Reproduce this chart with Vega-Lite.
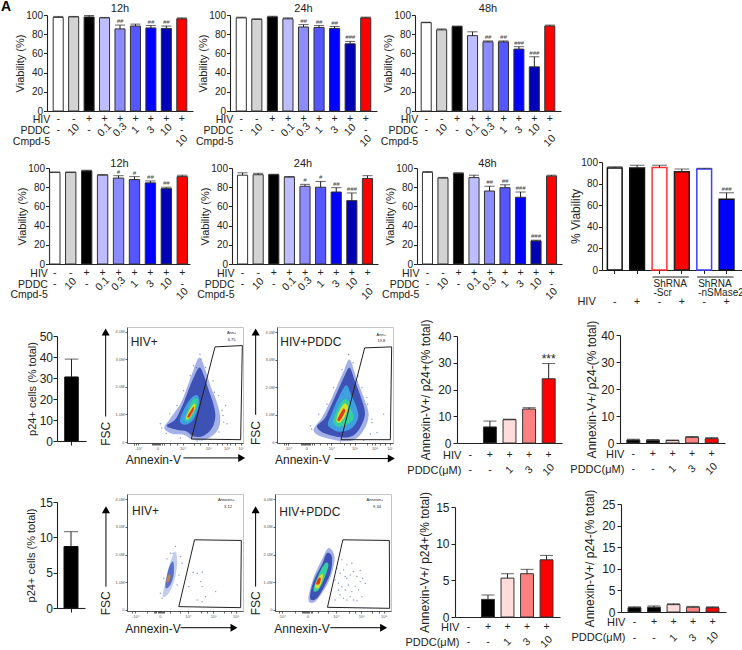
{"$schema":"https://vega.github.io/schema/vega-lite/v6.json","background":"white","padding":0,"autosize":{"type":"pad"},"spacing":0,"bounds":"flush","resolve":{"scale":{"fill":"independent","stroke":"independent"}},
"config":{"font":"Liberation Sans","view":{"stroke":null},"axis":{"grid":false,"domainColor":"#222","tickColor":"#222","labelColor":"#222","titleColor":"#222","labelFontSize":10,"titleFontSize":11,"titleFontWeight":"normal","tickSize":3.5,"labelPadding":1,"titlePadding":0,"domainWidth":1.1},"title":{"fontSize":11,"fontWeight":"normal","color":"#222"},"bar":{"stroke":"#333","strokeWidth":1},"rule":{"color":"#222","strokeWidth":1},"tick":{"color":"#222","thickness":1,"bandSize":7},"text":{"fontSize":10.5,"color":"#222"}},
"datasets":{"e":[],
"v":[
{"p":1,"g":1,"v":97.5,"e":98.5,"h":"-","d":"-"},{"p":1,"g":2,"v":98,"e":98.5,"h":"-","d":"10"},{"p":1,"g":3,"v":98,"e":99.5,"h":"+","d":"-"},{"p":1,"g":4,"v":97,"e":97.5,"h":"+","d":"0.1"},{"p":1,"g":5,"v":85.5,"e":89.5,"h":"+","d":"0.3","s":"##"},{"p":1,"g":6,"v":88.5,"e":90.5,"h":"+","d":"1"},{"p":1,"g":7,"v":86.5,"e":89,"h":"+","d":"3","s":"##"},{"p":1,"g":8,"v":86,"e":88.5,"h":"+","d":"10","s":"##"},{"p":1,"g":9,"v":96,"e":97,"h":"+","d":"-","c":"10"},
{"p":2,"g":1,"v":97,"e":97.7,"h":"-","d":"-"},{"p":2,"g":2,"v":95.5,"e":96,"h":"-","d":"10"},{"p":2,"g":3,"v":98,"e":98.7,"h":"+","d":"-"},{"p":2,"g":4,"v":96,"e":97,"h":"+","d":"0.1"},{"p":2,"g":5,"v":87.5,"e":90,"h":"+","d":"0.3","s":"##"},{"p":2,"g":6,"v":87,"e":89,"h":"+","d":"1","s":"##"},{"p":2,"g":7,"v":86,"e":88,"h":"+","d":"3","s":"##"},{"p":2,"g":8,"v":70,"e":72.5,"h":"+","d":"10","s":"###"},{"p":2,"g":9,"v":97,"e":97.8,"h":"+","d":"-","c":"10"},
{"p":3,"g":1,"v":92,"e":92.5,"h":"-","d":"-"},{"p":3,"g":2,"v":84.5,"e":85.5,"h":"-","d":"10"},{"p":3,"g":3,"v":88,"e":88.5,"h":"+","d":"-"},{"p":3,"g":4,"v":78.5,"e":82.5,"h":"+","d":"0.1"},{"p":3,"g":5,"v":72,"e":73,"h":"+","d":"0.3","s":"##"},{"p":3,"g":6,"v":72,"e":73,"h":"+","d":"1","s":"##"},{"p":3,"g":7,"v":64.5,"e":67,"h":"+","d":"3","s":"###"},{"p":3,"g":8,"v":46,"e":56.5,"h":"+","d":"10","s":"###"},{"p":3,"g":9,"v":88.5,"e":89.5,"h":"+","d":"-","c":"10"},
{"p":4,"g":1,"v":95.5,"e":95.7,"h":"-","d":"-"},{"p":4,"g":2,"v":95.5,"e":95.7,"h":"-","d":"10"},{"p":4,"g":3,"v":97,"e":97.7,"h":"+","d":"-"},{"p":4,"g":4,"v":92.5,"e":93.2,"h":"+","d":"0.1"},{"p":4,"g":5,"v":89.5,"e":92,"h":"+","d":"0.3","s":"#"},{"p":4,"g":6,"v":88,"e":91,"h":"+","d":"1","s":"#"},{"p":4,"g":7,"v":84.5,"e":86.5,"h":"+","d":"3","s":"##"},{"p":4,"g":8,"v":78.5,"e":80,"h":"+","d":"10","s":"##"},{"p":4,"g":9,"v":91,"e":92.5,"h":"+","d":"-","c":"10"},
{"p":5,"g":1,"v":92.5,"e":95,"h":"-","d":"-"},{"p":5,"g":2,"v":93,"e":94.5,"h":"-","d":"10"},{"p":5,"g":3,"v":93,"e":93.5,"h":"+","d":"-"},{"p":5,"g":4,"v":90.5,"e":91.2,"h":"+","d":"0.1"},{"p":5,"g":5,"v":81,"e":83,"h":"+","d":"0.3","s":"#"},{"p":5,"g":6,"v":80,"e":86,"h":"+","d":"1","s":"#"},{"p":5,"g":7,"v":75,"e":79.5,"h":"+","d":"3","s":"##"},{"p":5,"g":8,"v":66,"e":74,"h":"+","d":"10","s":"###"},{"p":5,"g":9,"v":89,"e":92,"h":"+","d":"-","c":"10"},
{"p":6,"g":1,"v":95.5,"e":96.3,"h":"-","d":"-"},{"p":6,"g":2,"v":89.5,"e":90.2,"h":"-","d":"10"},{"p":6,"g":3,"v":94.5,"e":95,"h":"+","d":"-"},{"p":6,"g":4,"v":90,"e":92.5,"h":"+","d":"0.1"},{"p":6,"g":5,"v":76,"e":81,"h":"+","d":"0.3","s":"##"},{"p":6,"g":6,"v":79.5,"e":82.5,"h":"+","d":"1","s":"##"},{"p":6,"g":7,"v":69.5,"e":75,"h":"+","d":"3","s":"###"},{"p":6,"g":8,"v":24,"e":24.8,"h":"+","d":"10","s":"###"},{"p":6,"g":9,"v":91.5,"e":92.5,"h":"+","d":"-","c":"10"}
],
"b":[
{"p":"G","g":1,"v":94.5,"e":95.5,"h":"-"},{"p":"G","g":2,"v":94.5,"e":97,"h":"+"},{"p":"G","g":3,"v":95,"e":97,"h":"-","b":4,"t":"ShRNA\n-Scr"},{"p":"G","g":4,"v":91,"e":93.5,"h":"+"},{"p":"G","g":5,"v":93.5,"e":94.2,"h":"-","b":6,"t":"ShRNA\n-nSMase2"},{"p":"G","g":6,"v":65.5,"e":71.5,"h":"+","s":"###"},
{"p":"H","g":1,"v":30.5,"e":39},{"p":"M","g":1,"v":8.7,"e":10.8},
{"p":"K","g":1,"v":0,"h":"-","d":"-"},{"p":"K","g":2,"v":6,"e":8.2,"h":"+","d":"-"},{"p":"K","g":3,"v":8.7,"e":8.9,"h":"+","d":"1"},{"p":"K","g":4,"v":12.7,"e":13.2,"h":"+","d":"3"},{"p":"K","g":5,"v":24,"e":29.7,"h":"+","d":"10","s":"***"},
{"p":"L","g":1,"v":1.1,"e":1.4,"h":"-","d":"-"},{"p":"L","g":2,"v":1,"e":1.3,"h":"+","d":"-"},{"p":"L","g":3,"v":0.9,"e":1.1,"h":"+","d":"1"},{"p":"L","g":4,"v":2.1,"e":2.4,"h":"+","d":"3"},{"p":"L","g":5,"v":1.6,"e":2,"h":"+","d":"10"},
{"p":"P","g":1,"v":0,"h":"-","d":"-"},{"p":"P","g":2,"v":2.4,"e":3,"h":"+","d":"-"},{"p":"P","g":3,"v":5.3,"e":5.9,"h":"+","d":"1"},{"p":"P","g":4,"v":5.9,"e":6.5,"h":"+","d":"3"},{"p":"P","g":5,"v":7.8,"e":8.4,"h":"+","d":"10"},
{"p":"Q","g":1,"v":1,"e":1.2,"h":"-","d":"-"},{"p":"Q","g":2,"v":1.1,"e":1.4,"h":"+","d":"-"},{"p":"Q","g":3,"v":1.7,"e":1.9,"h":"+","d":"1"},{"p":"Q","g":4,"v":1.1,"e":1.3,"h":"+","d":"3"},{"p":"Q","g":5,"v":1,"e":1.2,"h":"+","d":"10"}
],
"c":[
{"p":"I","l":0,"x":112,"y":42},{"p":"I","l":0,"x":130,"y":72},{"p":"I","l":0,"x":160,"y":115},{"p":"I","l":0,"x":175,"y":150},{"p":"I","l":0,"x":195,"y":205},{"p":"I","l":0,"x":217,"y":255},{"p":"I","l":0,"x":236,"y":215},{"p":"I","l":0,"x":250,"y":170},{"p":"I","l":0,"x":268,"y":125},{"p":"I","l":0,"x":280,"y":70},{"p":"I","l":0,"x":268,"y":30},{"p":"I","l":0,"x":232,"y":6},{"p":"I","l":0,"x":195,"y":8},{"p":"I","l":0,"x":170,"y":22},{"p":"I","l":0,"x":135,"y":25},
{"p":"I","l":1,"x":119,"y":49},{"p":"I","l":1,"x":144,"y":67},{"p":"I","l":1,"x":164,"y":105},{"p":"I","l":1,"x":179,"y":142},{"p":"I","l":1,"x":199,"y":192},{"p":"I","l":1,"x":217,"y":225},{"p":"I","l":1,"x":231,"y":200},{"p":"I","l":1,"x":244,"y":160},{"p":"I","l":1,"x":259,"y":115},{"p":"I","l":1,"x":265,"y":77},{"p":"I","l":1,"x":255,"y":42},{"p":"I","l":1,"x":229,"y":18},{"p":"I","l":1,"x":199,"y":17},{"p":"I","l":1,"x":179,"y":32},{"p":"I","l":1,"x":149,"y":37},
{"p":"I","l":2,"x":159,"y":67},{"p":"I","l":2,"x":184,"y":122},{"p":"I","l":2,"x":209,"y":142},{"p":"I","l":2,"x":217,"y":117},{"p":"I","l":2,"x":199,"y":67},{"p":"I","l":2,"x":174,"y":52},
{"p":"I","l":3,"x":174,"y":72},{"p":"I","l":3,"x":194,"y":122},{"p":"I","l":3,"x":209,"y":132},{"p":"I","l":3,"x":211,"y":112},{"p":"I","l":3,"x":194,"y":72},{"p":"I","l":3,"x":179,"y":62},
{"p":"I","l":4,"x":177,"y":75},{"p":"I","l":4,"x":194,"y":107},{"p":"I","l":4,"x":204,"y":115},{"p":"I","l":4,"x":204,"y":102},{"p":"I","l":4,"x":189,"y":75},{"p":"I","l":4,"x":181,"y":69},
{"p":"I","l":5,"x":181,"y":77},{"p":"I","l":5,"x":194,"y":99},{"p":"I","l":5,"x":201,"y":107},{"p":"I","l":5,"x":199,"y":95},{"p":"I","l":5,"x":187,"y":75},
{"p":"J","l":0,"x":110,"y":40},{"p":"J","l":0,"x":135,"y":75},{"p":"J","l":0,"x":158,"y":120},{"p":"J","l":0,"x":178,"y":165},{"p":"J","l":0,"x":200,"y":215},{"p":"J","l":0,"x":218,"y":250},{"p":"J","l":0,"x":238,"y":195},{"p":"J","l":0,"x":260,"y":135},{"p":"J","l":0,"x":275,"y":85},{"p":"J","l":0,"x":262,"y":40},{"p":"J","l":0,"x":232,"y":8},{"p":"J","l":0,"x":190,"y":4},{"p":"J","l":0,"x":150,"y":12},{"p":"J","l":0,"x":122,"y":22},
{"p":"J","l":1,"x":120,"y":49},{"p":"J","l":1,"x":143,"y":72},{"p":"J","l":1,"x":163,"y":112},{"p":"J","l":1,"x":183,"y":157},{"p":"J","l":1,"x":203,"y":202},{"p":"J","l":1,"x":218,"y":225},{"p":"J","l":1,"x":233,"y":187},{"p":"J","l":1,"x":253,"y":132},{"p":"J","l":1,"x":264,"y":87},{"p":"J","l":1,"x":251,"y":47},{"p":"J","l":1,"x":228,"y":20},{"p":"J","l":1,"x":193,"y":15},{"p":"J","l":1,"x":158,"y":22},{"p":"J","l":1,"x":133,"y":32},
{"p":"J","l":2,"x":153,"y":57},{"p":"J","l":2,"x":168,"y":97},{"p":"J","l":2,"x":188,"y":142},{"p":"J","l":2,"x":208,"y":172},{"p":"J","l":2,"x":223,"y":142},{"p":"J","l":2,"x":240,"y":102},{"p":"J","l":2,"x":243,"y":72},{"p":"J","l":2,"x":223,"y":42},{"p":"J","l":2,"x":188,"y":32},{"p":"J","l":2,"x":163,"y":42},
{"p":"J","l":3,"x":168,"y":62},{"p":"J","l":3,"x":180,"y":97},{"p":"J","l":3,"x":198,"y":127},{"p":"J","l":3,"x":213,"y":127},{"p":"J","l":3,"x":223,"y":97},{"p":"J","l":3,"x":230,"y":72},{"p":"J","l":3,"x":208,"y":52},{"p":"J","l":3,"x":183,"y":47},
{"p":"J","l":4,"x":178,"y":67},{"p":"J","l":4,"x":188,"y":97},{"p":"J","l":4,"x":203,"y":117},{"p":"J","l":4,"x":213,"y":105},{"p":"J","l":4,"x":203,"y":77},{"p":"J","l":4,"x":188,"y":59},
{"p":"J","l":5,"x":181,"y":69},{"p":"J","l":5,"x":190,"y":87},{"p":"J","l":5,"x":200,"y":102},{"p":"J","l":5,"x":204,"y":92},{"p":"J","l":5,"x":193,"y":72},{"p":"J","l":5,"x":186,"y":64},
{"p":"N","l":0,"x":107,"y":40},{"p":"N","l":0,"x":115,"y":85},{"p":"N","l":0,"x":130,"y":145},{"p":"N","l":0,"x":145,"y":175},{"p":"N","l":0,"x":150,"y":140},{"p":"N","l":0,"x":142,"y":90},{"p":"N","l":0,"x":125,"y":50},
{"p":"N","l":1,"x":115,"y":75},{"p":"N","l":1,"x":125,"y":125},{"p":"N","l":1,"x":138,"y":145},{"p":"N","l":1,"x":140,"y":110},{"p":"N","l":1,"x":132,"y":80},{"p":"N","l":1,"x":120,"y":65},
{"p":"N","l":6,"x":118,"y":85},{"p":"N","l":6,"x":124,"y":105},{"p":"N","l":6,"x":130,"y":103},{"p":"N","l":6,"x":126,"y":85},
{"p":"O","l":0,"x":100,"y":30},{"p":"O","l":0,"x":113,"y":90},{"p":"O","l":0,"x":140,"y":150},{"p":"O","l":0,"x":160,"y":185},{"p":"O","l":0,"x":178,"y":160},{"p":"O","l":0,"x":170,"y":110},{"p":"O","l":0,"x":150,"y":65},{"p":"O","l":0,"x":120,"y":25},
{"p":"O","l":1,"x":105,"y":35},{"p":"O","l":1,"x":115,"y":85},{"p":"O","l":1,"x":140,"y":135},{"p":"O","l":1,"x":155,"y":170},{"p":"O","l":1,"x":170,"y":160},{"p":"O","l":1,"x":167,"y":115},{"p":"O","l":1,"x":150,"y":75},{"p":"O","l":1,"x":125,"y":35},
{"p":"O","l":3,"x":115,"y":60},{"p":"O","l":3,"x":130,"y":105},{"p":"O","l":3,"x":150,"y":140},{"p":"O","l":3,"x":160,"y":135},{"p":"O","l":3,"x":150,"y":100},{"p":"O","l":3,"x":130,"y":60},
{"p":"O","l":4,"x":120,"y":70},{"p":"O","l":4,"x":130,"y":97},{"p":"O","l":4,"x":143,"y":107},{"p":"O","l":4,"x":140,"y":85},{"p":"O","l":4,"x":130,"y":65},
{"p":"O","l":5,"x":123,"y":78},{"p":"O","l":5,"x":130,"y":95},{"p":"O","l":5,"x":137,"y":95},{"p":"O","l":5,"x":133,"y":78}
],
"s":[
{"p":"I","x":219,"y":265},{"p":"I","x":222,"y":250},{"p":"I","x":208,"y":225},{"p":"I","x":236,"y":225},{"p":"I","x":262,"y":150},{"p":"I","x":285,"y":95},{"p":"I","x":290,"y":60},{"p":"I","x":300,"y":55},{"p":"I","x":296,"y":110},{"p":"I","x":100,"y":55},{"p":"I","x":104,"y":42},{"p":"I","x":118,"y":26},{"p":"I","x":276,"y":30},{"p":"I","x":250,"y":8},{"p":"I","x":210,"y":3},{"p":"I","x":160,"y":12},{"p":"I","x":200,"y":230},{"p":"I","x":190,"y":200},{"p":"I","x":170,"y":155},{"p":"I","x":150,"y":110},{"p":"I","x":128,"y":85},{"p":"I","x":258,"y":185},{"p":"I","x":275,"y":140},{"p":"I","x":288,"y":80},
{"p":"J","x":215,"y":265},{"p":"J","x":228,"y":240},{"p":"J","x":243,"y":200},{"p":"J","x":270,"y":135},{"p":"J","x":285,"y":70},{"p":"J","x":320,"y":85},{"p":"J","x":280,"y":25},{"p":"J","x":104,"y":40},{"p":"J","x":100,"y":50},{"p":"J","x":260,"y":6},{"p":"J","x":190,"y":1},{"p":"J","x":285,"y":60},{"p":"J","x":300,"y":30},{"p":"J","x":195,"y":220},{"p":"J","x":170,"y":165},{"p":"J","x":150,"y":115},{"p":"J","x":125,"y":85},{"p":"J","x":255,"y":165},{"p":"J","x":272,"y":115},
{"p":"N","x":198,"y":113},{"p":"N","x":210,"y":110},{"p":"N","x":225,"y":113},{"p":"N","x":220,"y":85},{"p":"N","x":235,"y":40},{"p":"N","x":225,"y":70},{"p":"N","x":185,"y":70},{"p":"N","x":265,"y":55},{"p":"N","x":210,"y":30},{"p":"N","x":225,"y":25},{"p":"N","x":145,"y":190},{"p":"N","x":138,"y":170},{"p":"N","x":160,"y":160},{"p":"N","x":165,"y":140},{"p":"N","x":155,"y":105},{"p":"N","x":105,"y":35},{"p":"N","x":100,"y":50},{"p":"N","x":150,"y":75},{"p":"N","x":110,"y":95},{"p":"N","x":120,"y":153},{"p":"N","x":130,"y":170},
{"p":"O","x":185,"y":125},{"p":"O","x":195,"y":110},{"p":"O","x":205,"y":120},{"p":"O","x":215,"y":95},{"p":"O","x":225,"y":105},{"p":"O","x":235,"y":115},{"p":"O","x":245,"y":100},{"p":"O","x":255,"y":118},{"p":"O","x":262,"y":95},{"p":"O","x":190,"y":80},{"p":"O","x":200,"y":70},{"p":"O","x":210,"y":60},{"p":"O","x":220,"y":75},{"p":"O","x":230,"y":55},{"p":"O","x":240,"y":70},{"p":"O","x":250,"y":60},{"p":"O","x":260,"y":40},{"p":"O","x":195,"y":45},{"p":"O","x":205,"y":35},{"p":"O","x":215,"y":30},{"p":"O","x":225,"y":40},{"p":"O","x":235,"y":30},{"p":"O","x":245,"y":28},{"p":"O","x":190,"y":60},{"p":"O","x":180,"y":90},{"p":"O","x":270,"y":80},{"p":"O","x":200,"y":150},{"p":"O","x":215,"y":135},{"p":"O","x":230,"y":140},{"p":"O","x":180,"y":30},{"p":"O","x":255,"y":85},{"p":"O","x":210,"y":100}
]},
"vconcat":[
{"width":12,"height":14,"data":{"values":[{"t":"A"}]},"mark":{"type":"text","fontSize":14,"fontWeight":"bold","color":"#000"},"encoding":{"text":{"field":"t"}}},
{"spacing":0,"bounds":"flush","hconcat":[{"width":47,"height":0,"data":{"name":"e"},"mark":"text"},{"spacing":0,"bounds":"flush","vconcat":[{"width":0,"height":1,"data":{"name":"e"},"mark":"text"},
{"title":{"text":"12h","offset":-4},"width":146,"height":96,"data":{"name":"v"},"transform":[{"filter":"datum.p==1"}],"encoding":{"x":{"field":"g","type":"nominal","scale":{"domain":[1,2,3,4,5,6,7,8,9],"paddingInner":0.35,"paddingOuter":0.4},"axis":{"title":null,"labels":false,"ticks":false}},"y":{"field":"v","type":"quantitative","scale":{"domain":[0,100]},"axis":{"title":"Viability (%)","values":[0,20,40,60,80,100]}}},"layer":[{"mark":"bar","encoding":{"fill":{"field":"g","type":"nominal","scale":{"domain":[1,2,3,4,5,6,7,8,9],"range":["#ffffff","#d3d3d3","#000000","#bdbdff","#8c8cff","#5656ff","#0000ff","#0000b4","#ff0000"]},"legend":null}}},{"mark":"rule","encoding":{"y2":{"field":"e"}}},{"mark":"tick","encoding":{"y":{"field":"e","type":"quantitative"}}},{"transform":[{"filter":"datum.s"}],"mark":{"type":"text","fontSize":6,"fontStyle":"italic","yOffset":-4,"color":"#444"},"encoding":{"y":{"field":"e","type":"quantitative"},"text":{"field":"s"}}},{"mark":{"type":"text","yOffset":8},"encoding":{"y":{"datum":0},"text":{"field":"h"}}},{"mark":{"type":"text","yOffset":19},"encoding":{"y":{"datum":0},"text":{"field":"d"},"angle":{"condition":{"test":"datum.d=='-'","value":0},"value":315}}},{"transform":[{"filter":"datum.c"}],"mark":{"type":"text","angle":315,"yOffset":30},"encoding":{"y":{"datum":0},"text":{"field":"c"}}},{"transform":[{"filter":"datum.g==1"}],"mark":{"type":"text","align":"right","baseline":"top","lineBreak":"\n","lineHeight":11,"xOffset":-8,"yOffset":4},"encoding":{"y":{"datum":0},"text":{"value":"HIV\nPDDC\nCmpd-5"}}}]}]}]},
{"spacing":0,"bounds":"flush","hconcat":[{"width":230,"height":0,"data":{"name":"e"},"mark":"text"},{"spacing":0,"bounds":"flush","vconcat":[{"width":0,"height":1,"data":{"name":"e"},"mark":"text"},
{"title":{"text":"24h","offset":-4},"width":147,"height":96,"data":{"name":"v"},"transform":[{"filter":"datum.p==2"}],"encoding":{"x":{"field":"g","type":"nominal","scale":{"domain":[1,2,3,4,5,6,7,8,9],"paddingInner":0.35,"paddingOuter":0.4},"axis":{"title":null,"labels":false,"ticks":false}},"y":{"field":"v","type":"quantitative","scale":{"domain":[0,100]},"axis":{"title":"Viability (%)","values":[0,20,40,60,80,100]}}},"layer":[{"mark":"bar","encoding":{"fill":{"field":"g","type":"nominal","scale":{"domain":[1,2,3,4,5,6,7,8,9],"range":["#ffffff","#d3d3d3","#000000","#bdbdff","#8c8cff","#5656ff","#0000ff","#0000b4","#ff0000"]},"legend":null}}},{"mark":"rule","encoding":{"y2":{"field":"e"}}},{"mark":"tick","encoding":{"y":{"field":"e","type":"quantitative"}}},{"transform":[{"filter":"datum.s"}],"mark":{"type":"text","fontSize":6,"fontStyle":"italic","yOffset":-4,"color":"#444"},"encoding":{"y":{"field":"e","type":"quantitative"},"text":{"field":"s"}}},{"mark":{"type":"text","yOffset":8},"encoding":{"y":{"datum":0},"text":{"field":"h"}}},{"mark":{"type":"text","yOffset":19},"encoding":{"y":{"datum":0},"text":{"field":"d"},"angle":{"condition":{"test":"datum.d=='-'","value":0},"value":315}}},{"transform":[{"filter":"datum.c"}],"mark":{"type":"text","angle":315,"yOffset":30},"encoding":{"y":{"datum":0},"text":{"field":"c"}}},{"transform":[{"filter":"datum.g==1"}],"mark":{"type":"text","align":"right","baseline":"top","lineBreak":"\n","lineHeight":11,"xOffset":-8,"yOffset":4},"encoding":{"y":{"datum":0},"text":{"value":"HIV\nPDDC\nCmpd-5"}}}]}]}]},
{"spacing":0,"bounds":"flush","hconcat":[{"width":415,"height":0,"data":{"name":"e"},"mark":"text"},{"spacing":0,"bounds":"flush","vconcat":[{"width":0,"height":1,"data":{"name":"e"},"mark":"text"},
{"title":{"text":"48h","offset":-4},"width":146,"height":96,"data":{"name":"v"},"transform":[{"filter":"datum.p==3"}],"encoding":{"x":{"field":"g","type":"nominal","scale":{"domain":[1,2,3,4,5,6,7,8,9],"paddingInner":0.35,"paddingOuter":0.4},"axis":{"title":null,"labels":false,"ticks":false}},"y":{"field":"v","type":"quantitative","scale":{"domain":[0,100]},"axis":{"title":"Viability (%)","values":[0,20,40,60,80,100]}}},"layer":[{"mark":"bar","encoding":{"fill":{"field":"g","type":"nominal","scale":{"domain":[1,2,3,4,5,6,7,8,9],"range":["#ffffff","#d3d3d3","#000000","#bdbdff","#8c8cff","#5656ff","#0000ff","#0000b4","#ff0000"]},"legend":null}}},{"mark":"rule","encoding":{"y2":{"field":"e"}}},{"mark":"tick","encoding":{"y":{"field":"e","type":"quantitative"}}},{"transform":[{"filter":"datum.s"}],"mark":{"type":"text","fontSize":6,"fontStyle":"italic","yOffset":-4,"color":"#444"},"encoding":{"y":{"field":"e","type":"quantitative"},"text":{"field":"s"}}},{"mark":{"type":"text","yOffset":8},"encoding":{"y":{"datum":0},"text":{"field":"h"}}},{"mark":{"type":"text","yOffset":19},"encoding":{"y":{"datum":0},"text":{"field":"d"},"angle":{"condition":{"test":"datum.d=='-'","value":0},"value":315}}},{"transform":[{"filter":"datum.c"}],"mark":{"type":"text","angle":315,"yOffset":30},"encoding":{"y":{"datum":0},"text":{"field":"c"}}},{"transform":[{"filter":"datum.g==1"}],"mark":{"type":"text","align":"right","baseline":"top","lineBreak":"\n","lineHeight":11,"xOffset":-8,"yOffset":4},"encoding":{"y":{"datum":0},"text":{"value":"HIV\nPDDC\nCmpd-5"}}}]}]}]},
{"spacing":0,"bounds":"flush","hconcat":[{"width":49,"height":0,"data":{"name":"e"},"mark":"text"},{"spacing":0,"bounds":"flush","vconcat":[{"width":0,"height":154,"data":{"name":"e"},"mark":"text"},
{"title":{"text":"12h","offset":-5.7},"width":141,"height":96,"data":{"name":"v"},"transform":[{"filter":"datum.p==4"}],"encoding":{"x":{"field":"g","type":"nominal","scale":{"domain":[1,2,3,4,5,6,7,8,9],"paddingInner":0.35,"paddingOuter":0.1,"align":0.2},"axis":{"title":null,"labels":false,"ticks":false}},"y":{"field":"v","type":"quantitative","scale":{"domain":[0,100]},"axis":{"title":"Viability (%)","values":[0,20,40,60,80,100]}}},"layer":[{"mark":"bar","encoding":{"fill":{"field":"g","type":"nominal","scale":{"domain":[1,2,3,4,5,6,7,8,9],"range":["#ffffff","#d3d3d3","#000000","#bdbdff","#8c8cff","#5656ff","#0000ff","#0000b4","#ff0000"]},"legend":null}}},{"mark":"rule","encoding":{"y2":{"field":"e"}}},{"mark":"tick","encoding":{"y":{"field":"e","type":"quantitative"}}},{"transform":[{"filter":"datum.s"}],"mark":{"type":"text","fontSize":6,"fontStyle":"italic","yOffset":-4,"color":"#444"},"encoding":{"y":{"field":"e","type":"quantitative"},"text":{"field":"s"}}},{"mark":{"type":"text","yOffset":9},"encoding":{"y":{"datum":0},"text":{"field":"h"}}},{"mark":{"type":"text","yOffset":20},"encoding":{"y":{"datum":0},"text":{"field":"d"},"angle":{"condition":{"test":"datum.d=='-'","value":0},"value":315}}},{"transform":[{"filter":"datum.c"}],"mark":{"type":"text","angle":315,"yOffset":30},"encoding":{"y":{"datum":0},"text":{"field":"c"}}},{"transform":[{"filter":"datum.g==1"}],"mark":{"type":"text","align":"right","baseline":"top","lineBreak":"\n","lineHeight":10.7,"xOffset":-7,"yOffset":5},"encoding":{"y":{"datum":0},"text":{"value":"HIV\nPDDC\nCmpd-5"}}}]}]}]},
{"spacing":0,"bounds":"flush","hconcat":[{"width":232,"height":0,"data":{"name":"e"},"mark":"text"},{"spacing":0,"bounds":"flush","vconcat":[{"width":0,"height":154,"data":{"name":"e"},"mark":"text"},
{"title":{"text":"24h","offset":-5.7,"dx":-2},"width":146,"height":96,"data":{"name":"v"},"transform":[{"filter":"datum.p==5"}],"encoding":{"x":{"field":"g","type":"nominal","scale":{"domain":[1,2,3,4,5,6,7,8,9],"paddingInner":0.35,"paddingOuter":0.35},"axis":{"title":null,"labels":false,"ticks":false}},"y":{"field":"v","type":"quantitative","scale":{"domain":[0,100]},"axis":{"title":"Viability (%)","values":[0,20,40,60,80,100]}}},"layer":[{"mark":"bar","encoding":{"fill":{"field":"g","type":"nominal","scale":{"domain":[1,2,3,4,5,6,7,8,9],"range":["#ffffff","#d3d3d3","#000000","#bdbdff","#8c8cff","#5656ff","#0000ff","#0000b4","#ff0000"]},"legend":null}}},{"mark":"rule","encoding":{"y2":{"field":"e"}}},{"mark":"tick","encoding":{"y":{"field":"e","type":"quantitative"}}},{"transform":[{"filter":"datum.s"}],"mark":{"type":"text","fontSize":6,"fontStyle":"italic","yOffset":-4,"color":"#444"},"encoding":{"y":{"field":"e","type":"quantitative"},"text":{"field":"s"}}},{"mark":{"type":"text","yOffset":9},"encoding":{"y":{"datum":0},"text":{"field":"h"}}},{"mark":{"type":"text","yOffset":20},"encoding":{"y":{"datum":0},"text":{"field":"d"},"angle":{"condition":{"test":"datum.d=='-'","value":0},"value":315}}},{"transform":[{"filter":"datum.c"}],"mark":{"type":"text","angle":315,"yOffset":30},"encoding":{"y":{"datum":0},"text":{"field":"c"}}},{"transform":[{"filter":"datum.g==1"}],"mark":{"type":"text","align":"right","baseline":"top","lineBreak":"\n","lineHeight":10.7,"xOffset":-8,"yOffset":5},"encoding":{"y":{"datum":0},"text":{"value":"HIV\nPDDC\nCmpd-5"}}}]}]}]},
{"spacing":0,"bounds":"flush","hconcat":[{"width":417,"height":0,"data":{"name":"e"},"mark":"text"},{"spacing":0,"bounds":"flush","vconcat":[{"width":0,"height":154,"data":{"name":"e"},"mark":"text"},
{"title":{"text":"48h","offset":-5.7,"dx":-2},"width":145,"height":96,"data":{"name":"v"},"transform":[{"filter":"datum.p==6"}],"encoding":{"x":{"field":"g","type":"nominal","scale":{"domain":[1,2,3,4,5,6,7,8,9],"paddingInner":0.35,"paddingOuter":0.35},"axis":{"title":null,"labels":false,"ticks":false}},"y":{"field":"v","type":"quantitative","scale":{"domain":[0,100]},"axis":{"title":"Viability (%)","values":[0,20,40,60,80,100]}}},"layer":[{"mark":"bar","encoding":{"fill":{"field":"g","type":"nominal","scale":{"domain":[1,2,3,4,5,6,7,8,9],"range":["#ffffff","#d3d3d3","#000000","#bdbdff","#8c8cff","#5656ff","#0000ff","#0000b4","#ff0000"]},"legend":null}}},{"mark":"rule","encoding":{"y2":{"field":"e"}}},{"mark":"tick","encoding":{"y":{"field":"e","type":"quantitative"}}},{"transform":[{"filter":"datum.s"}],"mark":{"type":"text","fontSize":6,"fontStyle":"italic","yOffset":-4,"color":"#444"},"encoding":{"y":{"field":"e","type":"quantitative"},"text":{"field":"s"}}},{"mark":{"type":"text","yOffset":9},"encoding":{"y":{"datum":0},"text":{"field":"h"}}},{"mark":{"type":"text","yOffset":20},"encoding":{"y":{"datum":0},"text":{"field":"d"},"angle":{"condition":{"test":"datum.d=='-'","value":0},"value":315}}},{"transform":[{"filter":"datum.c"}],"mark":{"type":"text","angle":315,"yOffset":30},"encoding":{"y":{"datum":0},"text":{"field":"c"}}},{"transform":[{"filter":"datum.g==1"}],"mark":{"type":"text","align":"right","baseline":"top","lineBreak":"\n","lineHeight":10.7,"xOffset":-8,"yOffset":5},"encoding":{"y":{"datum":0},"text":{"value":"HIV\nPDDC\nCmpd-5"}}}]}]}]},
{"spacing":0,"bounds":"flush","hconcat":[{"width":602,"height":0,"data":{"name":"e"},"mark":"text"},{"spacing":0,"bounds":"flush","vconcat":[{"width":0,"height":148,"data":{"name":"e"},"mark":"text"},
{"width":140,"height":108,"data":{"name":"b"},"transform":[{"filter":"datum.p=='G'"}],"encoding":{"x":{"field":"g","type":"nominal","scale":{"domain":[1,2,3,4,5,6],"paddingInner":0.34,"paddingOuter":0.3,"align":0.4},"axis":{"title":null,"labels":false,"ticks":true}},"y":{"field":"v","type":"quantitative","scale":{"domain":[0,100]},"axis":{"title":"% Viability","titleFontSize":12,"titlePadding":-2,"values":[0,20,40,60,80,100]}}},"layer":[{"mark":{"type":"bar","strokeWidth":1.5},"encoding":{"fill":{"field":"g","type":"nominal","scale":{"domain":[1,2,3,4,5,6],"range":["#ffffff","#000000","#ffffff","#ff0000","#ffffff","#0000ff"]},"legend":null},"stroke":{"field":"g","type":"nominal","scale":{"domain":[1,2,3,4,5,6],"range":["#111111","#111111","#ff3030","#222222","#4040ff","#111111"]},"legend":null}}},{"mark":"rule","encoding":{"y2":{"field":"e"}}},{"mark":"tick","encoding":{"y":{"field":"e","type":"quantitative"}}},{"transform":[{"filter":"datum.s"}],"mark":{"type":"text","fontSize":6,"fontStyle":"italic","yOffset":-4,"color":"#444"},"encoding":{"y":{"field":"e","type":"quantitative"},"text":{"field":"s"}}},{"mark":{"type":"text","yOffset":32},"encoding":{"y":{"datum":0},"text":{"field":"h"}}},{"transform":[{"filter":"datum.g==1"}],"mark":{"type":"text","align":"right","xOffset":-19,"yOffset":32,"fontSize":11},"encoding":{"y":{"datum":0},"text":{"value":"HIV"}}},{"transform":[{"filter":"datum.t"}],"mark":{"type":"rule","xOffset":-7,"x2Offset":7,"yOffset":7,"strokeWidth":1},"encoding":{"x2":{"field":"b"},"y":{"datum":0}}},{"transform":[{"filter":"datum.t"}],"mark":{"type":"text","align":"left","baseline":"top","lineBreak":"\n","lineHeight":9,"xOffset":-6,"yOffset":9,"fontSize":10},"encoding":{"y":{"datum":0},"text":{"field":"t"}}}]}]}]},
{"spacing":0,"bounds":"flush","hconcat":[{"width":57,"height":0,"data":{"name":"e"},"mark":"text"},{"spacing":0,"bounds":"flush","vconcat":[{"width":0,"height":322,"data":{"name":"e"},"mark":"text"},
{"width":29,"height":105,"data":{"name":"b"},"transform":[{"filter":"datum.p=='H'"}],"encoding":{"x":{"field":"g","type":"nominal","scale":{"domain":[1],"paddingInner":0,"paddingOuter":0.57},"axis":{"title":null,"labels":false,"tickSize":4}},"y":{"field":"v","type":"quantitative","scale":{"domain":[0,50]},"axis":{"title":"p24+ cells (% total)","titleFontSize":11,"labelFontSize":12,"tickSize":4,"labelPadding":0.5,"titlePadding":1.5,"values":[0,10,20,30,40,50]}}},"layer":[{"mark":{"type":"bar","fill":"#000","stroke":"#111"}},{"mark":"rule","encoding":{"y2":{"field":"e"}}},{"mark":"tick","encoding":{"y":{"field":"e","type":"quantitative"}}}]}]}]},
{"spacing":0,"bounds":"flush","hconcat":[{"width":127,"height":0,"data":{"name":"e"},"mark":"text"},{"spacing":0,"bounds":"flush","vconcat":[{"width":0,"height":313,"data":{"name":"e"},"mark":"text"},
{"width":116,"height":116,"view":{"stroke":"#c4c4c4"},"encoding":{"x":{"field":"x","type":"quantitative","scale":{"domain":[0,348],"nice":false,"zero":false},"axis":{"title":null,"values":[20,28,34,75,78,81,84,87,91,94,97,100,104,110,130,150,167,200,220,244,270,285,299,310,325,341],"labelExpr":"datum.value==34?'-10⁴':datum.value==91?'0':datum.value==167?'10⁴':datum.value==244?'10⁵':datum.value==299?'10⁶':datum.value==341?'10⁷':''","labelFontSize":4,"tickSize":2,"labelPadding":1,"labelColor":"#555","tickWidth":0.7,"domainWidth":0.7}},"y":{"field":"y","type":"quantitative","scale":{"domain":[-3,347],"nice":false,"zero":false},"axis":{"title":null,"values":[0,83,166,249,332],"labelExpr":"datum.value==0?'0':format(datum.value/83,'.1f')+'M'","labelFontSize":4,"tickSize":2,"labelPadding":1,"labelColor":"#555","tickWidth":0.7,"domainWidth":0.7}}},"layer":[{"data":{"name":"c"},"transform":[{"filter":"datum.p=='I'"}],"mark":{"type":"line","interpolate":"cardinal-closed","stroke":null,"order":null},"encoding":{"fill":{"field":"l","type":"nominal","scale":{"domain":[0,1,2,3,4,5,6],"range":["#a3b1e8","#3d52b4","#3f9fe0","#35d0a0","#d8e02c","#f0321e","#c08050"]},"legend":null}}},{"data":{"name":"s"},"transform":[{"filter":"datum.p=='I'"}],"mark":{"type":"point","filled":true,"size":2,"color":"#4a62c8","opacity":0.7}},{"data":{"values":[{"x":193,"y":9},{"x":264,"y":287},{"x":346,"y":291},{"x":341,"y":7}]},"mark":{"type":"line","interpolate":"linear-closed","color":"#222","strokeWidth":1,"order":null}},{"data":{"values":[{"x":11,"y":302,"t":"HIV+"}]},"mark":{"type":"text","align":"left","fontSize":12},"encoding":{"text":{"field":"t"}}},{"data":{"values":[{"x":314,"y":329,"t":"Ann+"},{"x":314,"y":307,"t":"6.75"}]},"mark":{"type":"text","fontSize":4},"encoding":{"text":{"field":"t"}}},{"data":{"values":[{"x":-64,"y":332,"y2":77}]},"mark":{"type":"rule","color":"#000"},"encoding":{"y2":{"field":"y2"}}},{"data":{"values":[{"x":-64,"y":332}]},"mark":{"type":"point","shape":"triangle-up","filled":true,"size":65,"color":"#000","opacity":1}},{"data":{"values":[{"x":169,"x2":344,"y":-48}]},"mark":{"type":"rule","color":"#000"},"encoding":{"x2":{"field":"x2"}}},{"data":{"values":[{"x":344,"y":-48}]},"mark":{"type":"point","shape":"triangle-right","filled":true,"size":65,"color":"#000","opacity":1}},{"data":{"values":[{"x":-64,"y":25,"t":"FSC"}]},"mark":{"type":"text","angle":270,"fontSize":12},"encoding":{"text":{"field":"t"}}},{"data":{"values":[{"x":-4,"y":-53,"t":"Annexin-V"}]},"mark":{"type":"text","align":"left","fontSize":12},"encoding":{"text":{"field":"t"}}}]}]}]},
{"spacing":0,"bounds":"flush","hconcat":[{"width":277,"height":0,"data":{"name":"e"},"mark":"text"},{"spacing":0,"bounds":"flush","vconcat":[{"width":0,"height":313,"data":{"name":"e"},"mark":"text"},
{"width":116,"height":116,"view":{"stroke":"#c4c4c4"},"encoding":{"x":{"field":"x","type":"quantitative","scale":{"domain":[0,348],"nice":false,"zero":false},"axis":{"title":null,"values":[20,28,33,72,75,78,81,84,88,91,94,97,100,104,110,130,150,163,200,220,233,270,285,293,310,325,338],"labelExpr":"datum.value==33?'-10⁴':datum.value==88?'0':datum.value==163?'10⁴':datum.value==233?'10⁵':datum.value==293?'10⁶':datum.value==338?'10⁷':''","labelFontSize":4,"tickSize":2,"labelPadding":1,"labelColor":"#555","tickWidth":0.7,"domainWidth":0.7}},"y":{"field":"y","type":"quantitative","scale":{"domain":[-2,348],"nice":false,"zero":false},"axis":{"title":null,"values":[0,83,166,249,332],"labelExpr":"datum.value==0?'0':format(datum.value/83,'.1f')+'M'","labelFontSize":4,"tickSize":2,"labelPadding":1,"labelColor":"#555","tickWidth":0.7,"domainWidth":0.7}}},"layer":[{"data":{"name":"c"},"transform":[{"filter":"datum.p=='J'"}],"mark":{"type":"line","interpolate":"cardinal-closed","stroke":null,"order":null},"encoding":{"fill":{"field":"l","type":"nominal","scale":{"domain":[0,1,2,3,4,5,6],"range":["#a3b1e8","#3d52b4","#3f9fe0","#35d0a0","#d8e02c","#f0321e","#c08050"]},"legend":null}}},{"data":{"name":"s"},"transform":[{"filter":"datum.p=='J'"}],"mark":{"type":"point","filled":true,"size":2,"color":"#4a62c8","opacity":0.7}},{"data":{"values":[{"x":192,"y":8},{"x":263,"y":285},{"x":344,"y":288},{"x":340,"y":8}]},"mark":{"type":"line","interpolate":"linear-closed","color":"#222","strokeWidth":1,"order":null}},{"data":{"values":[{"x":10,"y":303,"t":"HIV+PDDC"}]},"mark":{"type":"text","align":"left","fontSize":12},"encoding":{"text":{"field":"t"}}},{"data":{"values":[{"x":313,"y":325,"t":"Ann+"},{"x":313,"y":305,"t":"19.8"}]},"mark":{"type":"text","fontSize":4},"encoding":{"text":{"field":"t"}}},{"data":{"values":[{"x":-64,"y":333,"y2":83}]},"mark":{"type":"rule","color":"#000"},"encoding":{"y2":{"field":"y2"}}},{"data":{"values":[{"x":-64,"y":333}]},"mark":{"type":"point","shape":"triangle-up","filled":true,"size":65,"color":"#000","opacity":1}},{"data":{"values":[{"x":173,"x2":343,"y":-49}]},"mark":{"type":"rule","color":"#000"},"encoding":{"x2":{"field":"x2"}}},{"data":{"values":[{"x":343,"y":-49}]},"mark":{"type":"point","shape":"triangle-right","filled":true,"size":65,"color":"#000","opacity":1}},{"data":{"values":[{"x":-64,"y":28,"t":"FSC"}]},"mark":{"type":"text","angle":270,"fontSize":12},"encoding":{"text":{"field":"t"}}},{"data":{"values":[{"x":-6,"y":-54,"t":"Annexin-V"}]},"mark":{"type":"text","align":"left","fontSize":12},"encoding":{"text":{"field":"t"}}}]}]}]},
{"spacing":0,"bounds":"flush","hconcat":[{"width":457,"height":0,"data":{"name":"e"},"mark":"text"},{"spacing":0,"bounds":"flush","vconcat":[{"width":0,"height":322,"data":{"name":"e"},"mark":"text"},
{"width":105,"height":107,"data":{"name":"b"},"transform":[{"filter":"datum.p=='K'"}],"encoding":{"x":{"field":"g","type":"nominal","scale":{"domain":[1,2,3,4,5],"paddingInner":0.34,"paddingOuter":0.35},"axis":{"title":null,"labels":false,"ticks":false}},"y":{"field":"v","type":"quantitative","scale":{"domain":[0,40]},"axis":{"title":"Annexin-V+/ p24+(% total)","titleFontSize":12,"labelFontSize":12,"tickSize":4,"labelPadding":2,"titlePadding":5,"values":[0,10,20,30,40]}}},"layer":[{"transform":[{"filter":"datum.v>0"}],"mark":"bar","encoding":{"fill":{"field":"g","type":"nominal","scale":{"domain":[1,2,3,4,5],"range":["#ffffff","#000000","#ffdcdc","#ff8080","#ff0000"]},"legend":null}}},{"transform":[{"filter":"datum.e"}],"mark":"rule","encoding":{"y2":{"field":"e"}}},{"transform":[{"filter":"datum.e"}],"mark":"tick","encoding":{"y":{"field":"e","type":"quantitative"}}},{"transform":[{"filter":"datum.s"}],"mark":{"type":"text","fontSize":12,"yOffset":-5},"encoding":{"y":{"field":"e","type":"quantitative"},"text":{"field":"s"}}},{"mark":{"type":"text","yOffset":12},"encoding":{"y":{"datum":0},"text":{"field":"h"}}},{"mark":{"type":"text","yOffset":27},"encoding":{"y":{"datum":0},"text":{"field":"d"},"angle":{"condition":{"test":"datum.d=='-'","value":0},"value":315}}},{"transform":[{"filter":"datum.g==1"}],"mark":{"type":"text","align":"right","baseline":"top","lineBreak":"\n","lineHeight":15,"xOffset":-9,"yOffset":7,"fontSize":11},"encoding":{"y":{"datum":0},"text":{"value":"HIV\nPDDC(μM)"}}}]}]}]},
{"spacing":0,"bounds":"flush","hconcat":[{"width":620,"height":0,"data":{"name":"e"},"mark":"text"},{"spacing":0,"bounds":"flush","vconcat":[{"width":0,"height":321,"data":{"name":"e"},"mark":"text"},
{"width":105,"height":108,"data":{"name":"b"},"transform":[{"filter":"datum.p=='L'"}],"encoding":{"x":{"field":"g","type":"nominal","scale":{"domain":[1,2,3,4,5],"paddingInner":0.34,"paddingOuter":0.35},"axis":{"title":null,"labels":false,"ticks":false}},"y":{"field":"v","type":"quantitative","scale":{"domain":[0,40]},"axis":{"title":"Annexin-V+/ p24-(% total)","titleFontSize":12,"labelFontSize":12,"tickSize":4,"labelPadding":2,"titlePadding":2,"values":[0,10,20,30,40]}}},"layer":[{"mark":"bar","encoding":{"fill":{"field":"g","type":"nominal","scale":{"domain":[1,2,3,4,5],"range":["#000000","#000000","#ffdcdc","#ff8080","#ff0000"]},"legend":null}}},{"mark":"rule","encoding":{"y2":{"field":"e"}}},{"mark":"tick","encoding":{"y":{"field":"e","type":"quantitative"}}},{"mark":{"type":"text","yOffset":11},"encoding":{"y":{"datum":0},"text":{"field":"h"}}},{"mark":{"type":"text","yOffset":26},"encoding":{"y":{"datum":0},"text":{"field":"d"},"angle":{"condition":{"test":"datum.d=='-'","value":0},"value":315}}},{"transform":[{"filter":"datum.g==1"}],"mark":{"type":"text","align":"right","baseline":"top","lineBreak":"\n","lineHeight":15,"xOffset":-9,"yOffset":6,"fontSize":11},"encoding":{"y":{"datum":0},"text":{"value":"HIV\nPDDC(μM)"}}}]}]}]},
{"spacing":0,"bounds":"flush","hconcat":[{"width":57,"height":0,"data":{"name":"e"},"mark":"text"},{"spacing":0,"bounds":"flush","vconcat":[{"width":0,"height":488,"data":{"name":"e"},"mark":"text"},
{"width":28,"height":106,"data":{"name":"b"},"transform":[{"filter":"datum.p=='M'"}],"encoding":{"x":{"field":"g","type":"nominal","scale":{"domain":[1],"paddingInner":0,"paddingOuter":0.5},"axis":{"title":null,"labels":false,"tickSize":4}},"y":{"field":"v","type":"quantitative","scale":{"domain":[0,15]},"axis":{"title":"p24+ cells (% total)","titleFontSize":11,"labelFontSize":12,"tickSize":4,"labelPadding":0.5,"titlePadding":2.5,"values":[0,5,10,15]}}},"layer":[{"mark":{"type":"bar","fill":"#000","stroke":"#111"}},{"mark":"rule","encoding":{"y2":{"field":"e"}}},{"mark":"tick","encoding":{"y":{"field":"e","type":"quantitative"}}}]}]}]},
{"spacing":0,"bounds":"flush","hconcat":[{"width":127,"height":0,"data":{"name":"e"},"mark":"text"},{"spacing":0,"bounds":"flush","vconcat":[{"width":0,"height":480,"data":{"name":"e"},"mark":"text"},
{"width":116,"height":117,"view":{"stroke":"#c4c4c4"},"encoding":{"x":{"field":"x","type":"quantitative","scale":{"domain":[0,347],"nice":false,"zero":false},"axis":{"title":null,"values":[15,25,60,80,84,88,92,95,98,101,104,108,112,130,160,182,220,240,258,290,310,325],"labelExpr":"datum.value==25?'-10⁴':datum.value==98?'0':datum.value==182?'10⁴':datum.value==258?'10⁵':datum.value==325?'10⁶':''","labelFontSize":4,"tickSize":2,"labelPadding":1,"labelColor":"#555","tickWidth":0.7,"domainWidth":0.7}},"y":{"field":"y","type":"quantitative","scale":{"domain":[-3,347],"nice":false,"zero":false},"axis":{"title":null,"values":[0,83,166,249,332],"labelExpr":"datum.value==0?'0':format(datum.value/83,'.1f')+'M'","labelFontSize":4,"tickSize":2,"labelPadding":1,"labelColor":"#555","tickWidth":0.7,"domainWidth":0.7}}},"layer":[{"data":{"name":"c"},"transform":[{"filter":"datum.p=='N'"}],"mark":{"type":"line","interpolate":"cardinal-closed","stroke":null,"order":null},"encoding":{"fill":{"field":"l","type":"nominal","scale":{"domain":[0,1,2,3,4,5,6],"range":["#c3cdf0","#5a70c4","#3f9fe0","#35d0a0","#d8e02c","#f0321e","#c08050"]},"legend":null}}},{"data":{"name":"s"},"transform":[{"filter":"datum.p=='N'"}],"mark":{"type":"point","filled":true,"size":2,"color":"#4a62c8","opacity":0.7}},{"data":{"values":[{"x":155,"y":10},{"x":202,"y":210},{"x":342,"y":208},{"x":340,"y":7}]},"mark":{"type":"line","interpolate":"linear-closed","color":"#222","strokeWidth":1,"order":null}},{"data":{"values":[{"x":15,"y":295,"t":"HIV+"}]},"mark":{"type":"text","align":"left","fontSize":12},"encoding":{"text":{"field":"t"}}},{"data":{"values":[{"x":297,"y":328,"t":"Annexin+"},{"x":302,"y":309,"t":"3.12"}]},"mark":{"type":"text","fontSize":4},"encoding":{"text":{"field":"t"}}},{"data":{"values":[{"x":-63,"y":300,"y2":70}]},"mark":{"type":"rule","color":"#000"},"encoding":{"y2":{"field":"y2"}}},{"data":{"values":[{"x":-63,"y":300}]},"mark":{"type":"point","shape":"triangle-up","filled":true,"size":65,"color":"#000","opacity":1}},{"data":{"values":[{"x":160,"x2":320,"y":-53}]},"mark":{"type":"rule","color":"#000"},"encoding":{"x2":{"field":"x2"}}},{"data":{"values":[{"x":320,"y":-53}]},"mark":{"type":"point","shape":"triangle-right","filled":true,"size":65,"color":"#000","opacity":1}},{"data":{"values":[{"x":-63,"y":20,"t":"FSC"}]},"mark":{"type":"text","angle":270,"fontSize":12},"encoding":{"text":{"field":"t"}}},{"data":{"values":[{"x":-5,"y":-57,"t":"Annexin-V"}]},"mark":{"type":"text","align":"left","fontSize":12},"encoding":{"text":{"field":"t"}}}]}]}]},
{"spacing":0,"bounds":"flush","hconcat":[{"width":275,"height":0,"data":{"name":"e"},"mark":"text"},{"spacing":0,"bounds":"flush","vconcat":[{"width":0,"height":480,"data":{"name":"e"},"mark":"text"},
{"width":116,"height":117,"view":{"stroke":"#c4c4c4"},"encoding":{"x":{"field":"x","type":"quantitative","scale":{"domain":[0,347],"nice":false,"zero":false},"axis":{"title":null,"values":[12,20,60,80,84,88,91,94,97,100,103,107,112,130,160,182,220,240,258,290,310,325],"labelExpr":"datum.value==20?'-10⁴':datum.value==97?'0':datum.value==182?'10⁴':datum.value==258?'10⁵':datum.value==325?'10⁶':''","labelFontSize":4,"tickSize":2,"labelPadding":1,"labelColor":"#555","tickWidth":0.7,"domainWidth":0.7}},"y":{"field":"y","type":"quantitative","scale":{"domain":[-3,347],"nice":false,"zero":false},"axis":{"title":null,"values":[0,83,166,249,332],"labelExpr":"datum.value==0?'0':format(datum.value/83,'.1f')+'M'","labelFontSize":4,"tickSize":2,"labelPadding":1,"labelColor":"#555","tickWidth":0.7,"domainWidth":0.7}}},"layer":[{"data":{"name":"c"},"transform":[{"filter":"datum.p=='O'"}],"mark":{"type":"line","interpolate":"cardinal-closed","stroke":null,"order":null},"encoding":{"fill":{"field":"l","type":"nominal","scale":{"domain":[0,1,2,3,4,5,6],"range":["#a3b1e8","#3d52b4","#3f9fe0","#35d0a0","#d8e02c","#f0321e","#c08050"]},"legend":null}}},{"data":{"name":"s"},"transform":[{"filter":"datum.p=='O'"}],"mark":{"type":"point","filled":true,"size":2,"color":"#4a62c8","opacity":0.7}},{"data":{"values":[{"x":157,"y":8},{"x":203,"y":210},{"x":342,"y":208},{"x":343,"y":5}]},"mark":{"type":"line","interpolate":"linear-closed","color":"#222","strokeWidth":1,"order":null}},{"data":{"values":[{"x":13,"y":293,"t":"HIV+PDDC"}]},"mark":{"type":"text","align":"left","fontSize":12},"encoding":{"text":{"field":"t"}}},{"data":{"values":[{"x":299,"y":328,"t":"Annexin+"},{"x":305,"y":307,"t":"9.34"}]},"mark":{"type":"text","fontSize":4},"encoding":{"text":{"field":"t"}}},{"data":{"values":[{"x":-58,"y":300,"y2":70}]},"mark":{"type":"rule","color":"#000"},"encoding":{"y2":{"field":"y2"}}},{"data":{"values":[{"x":-58,"y":300}]},"mark":{"type":"point","shape":"triangle-up","filled":true,"size":65,"color":"#000","opacity":1}},{"data":{"values":[{"x":165,"x2":325,"y":-53}]},"mark":{"type":"rule","color":"#000"},"encoding":{"x2":{"field":"x2"}}},{"data":{"values":[{"x":325,"y":-53}]},"mark":{"type":"point","shape":"triangle-right","filled":true,"size":65,"color":"#000","opacity":1}},{"data":{"values":[{"x":-58,"y":20,"t":"FSC"}]},"mark":{"type":"text","angle":270,"fontSize":12},"encoding":{"text":{"field":"t"}}},{"data":{"values":[{"x":-2,"y":-57,"t":"Annexin-V"}]},"mark":{"type":"text","align":"left","fontSize":12},"encoding":{"text":{"field":"t"}}}]}]}]},
{"spacing":0,"bounds":"flush","hconcat":[{"width":455,"height":0,"data":{"name":"e"},"mark":"text"},{"spacing":0,"bounds":"flush","vconcat":[{"width":0,"height":493,"data":{"name":"e"},"mark":"text"},
{"width":105,"height":110,"data":{"name":"b"},"transform":[{"filter":"datum.p=='P'"}],"encoding":{"x":{"field":"g","type":"nominal","scale":{"domain":[1,2,3,4,5],"paddingInner":0.34,"paddingOuter":0.36},"axis":{"title":null,"labels":false,"ticks":false}},"y":{"field":"v","type":"quantitative","scale":{"domain":[0,15]},"axis":{"title":"Annexin-V+/ p24+(% total)","titleFontSize":12,"labelFontSize":12,"tickSize":4,"labelPadding":2,"titlePadding":4,"values":[0,5,10,15]}}},"layer":[{"transform":[{"filter":"datum.v>0"}],"mark":"bar","encoding":{"fill":{"field":"g","type":"nominal","scale":{"domain":[1,2,3,4,5],"range":["#ffffff","#000000","#ffdcdc","#ff8080","#ff0000"]},"legend":null}}},{"transform":[{"filter":"datum.e"}],"mark":"rule","encoding":{"y2":{"field":"e"}}},{"transform":[{"filter":"datum.e"}],"mark":"tick","encoding":{"y":{"field":"e","type":"quantitative"}}},{"mark":{"type":"text","yOffset":10},"encoding":{"y":{"datum":0},"text":{"field":"h"}}},{"mark":{"type":"text","yOffset":25},"encoding":{"y":{"datum":0},"text":{"field":"d"},"angle":{"condition":{"test":"datum.d=='-'","value":0},"value":315}}},{"transform":[{"filter":"datum.g==1"}],"mark":{"type":"text","align":"right","baseline":"top","lineBreak":"\n","lineHeight":15,"xOffset":-9,"yOffset":5,"fontSize":11},"encoding":{"y":{"datum":0},"text":{"value":"HIV\nPDDC(μM)"}}}]}]}]},
{"spacing":0,"bounds":"flush","hconcat":[{"width":621,"height":0,"data":{"name":"e"},"mark":"text"},{"spacing":0,"bounds":"flush","vconcat":[{"width":0,"height":490,"data":{"name":"e"},"mark":"text"},
{"width":105,"height":108,"data":{"name":"b"},"transform":[{"filter":"datum.p=='Q'"}],"encoding":{"x":{"field":"g","type":"nominal","scale":{"domain":[1,2,3,4,5],"paddingInner":0.34,"paddingOuter":0.36},"axis":{"title":null,"labels":false,"ticks":false}},"y":{"field":"v","type":"quantitative","scale":{"domain":[0,25]},"axis":{"title":"Annexin-V+/ p24-(% total)","titleFontSize":12,"labelFontSize":12,"tickSize":4,"labelPadding":2,"titlePadding":5,"values":[0,5,10,15,20,25]}}},"layer":[{"mark":"bar","encoding":{"fill":{"field":"g","type":"nominal","scale":{"domain":[1,2,3,4,5],"range":["#000000","#000000","#ffdcdc","#ff8080","#ff0000"]},"legend":null}}},{"mark":"rule","encoding":{"y2":{"field":"e"}}},{"mark":"tick","encoding":{"y":{"field":"e","type":"quantitative"}}},{"mark":{"type":"text","yOffset":10},"encoding":{"y":{"datum":0},"text":{"field":"h"}}},{"mark":{"type":"text","yOffset":26},"encoding":{"y":{"datum":0},"text":{"field":"d"},"angle":{"condition":{"test":"datum.d=='-'","value":0},"value":315}}},{"transform":[{"filter":"datum.g==1"}],"mark":{"type":"text","align":"right","baseline":"top","lineBreak":"\n","lineHeight":15,"xOffset":-9,"yOffset":5,"fontSize":11},"encoding":{"y":{"datum":0},"text":{"value":"HIV\nPDDC(μM)"}}}]}]}]}
]}
